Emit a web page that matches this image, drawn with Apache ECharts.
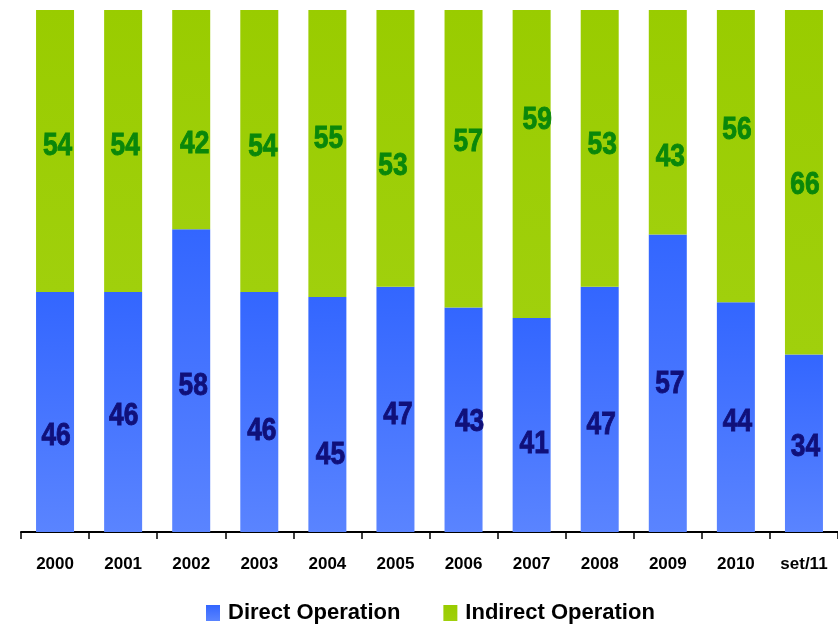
<!DOCTYPE html>
<html>
<head>
<meta charset="utf-8">
<script src="https://cdn.jsdelivr.net/npm/echarts@6/dist/echarts.min.js"></script>
<style>
  html, body { margin: 0; padding: 0; background: #ffffff; }
  #chart { width: 838px; height: 626px; }
</style>
</head>
<body>
<div id="chart"></div>
<script>
// Period labels
const categories = ['2000', '2001', '2002', '2003', '2004', '2005', '2006', '2007', '2008', '2009', '2010', 'set/11'];
// Share of each operation type (%)
const directOperation   = [46, 46, 58, 46, 45, 47, 43, 41, 47, 57, 44, 34];
const indirectOperation = [54, 54, 42, 54, 55, 53, 57, 59, 53, 43, 56, 66];

// Hand-placed nudges for the value labels, [dx, dy] in pixels from segment centre
const directLabelNudge   = [[1, 22], [0.5, 2], [2, 3.5], [2.5, 17], [3, 38], [2.5, 4], [6, 0], [2.5, 17], [1.5, 14], [2, -1], [1.5, 3], [1.5, 2]];
const indirectLabelNudge = [[2.5, -7], [2, -7], [3.5, 22], [3.5, -6], [1, -17], [-2.5, 16], [4.5, -19], [5.5, -46], [2.5, -5.5], [2.5, 32.5], [1, -28.5], [1, 0.5]];

const FONT = "'Liberation Sans', Arial, sans-serif";
// digits sit a little above the em-box middle; pull them down to centre the ink
const DIGIT_DROP = 2.5;

const chart = echarts.init(document.getElementById('chart'), null, { renderer: 'canvas' });

// Value labels: centred in each stacked segment, drawn slightly condensed
function labelSeries(values, bases, nudges, color) {
  return {
    type: 'custom',
    silent: true,
    z: 5,
    data: values.map((v, i) => [i, v, bases[i]]),
    renderItem: function (params, api) {
      const i = api.value(0);
      const v = api.value(1);
      const base = api.value(2);
      const p = api.coord([i, base + v / 2]);
      const n = nudges[i];
      return {
        type: 'text',
        x: p[0] + n[0],
        y: p[1] + n[1] + DIGIT_DROP,
        scaleX: 0.85,
        style: {
          text: String(v),
          fill: color,
          stroke: color,
          lineWidth: 0.9,
          font: 'bold 31px ' + FONT,
          align: 'center',
          verticalAlign: 'middle'
        }
      };
    }
  };
}

chart.setOption({
  animation: false,
  backgroundColor: '#ffffff',
  grid: { left: 21, top: 10, width: 821, height: 522, containLabel: false },
  xAxis: {
    type: 'category',
    data: categories,
    boundaryGap: true,
    axisLine: { show: true, lineStyle: { color: '#000000', width: 2 } },
    axisTick: { show: true, length: 7, lineStyle: { color: '#000000', width: 1.5 } },
    axisLabel: {
      interval: 0,
      margin: 24,
      color: '#000000',
      fontFamily: FONT,
      fontWeight: 'bold',
      fontSize: 17
    },
    splitLine: { show: false }
  },
  yAxis: {
    type: 'value',
    min: 0,
    max: 100,
    show: false
  },
  legend: {
    left: 206,
    top: 602,
    padding: 0,
    itemWidth: 14,
    itemHeight: 16,
    itemGap: 43,
    icon: 'rect',
    textStyle: {
      color: '#000000',
      fontFamily: FONT,
      fontWeight: 'bold',
      fontSize: 22,
      padding: [0, 0, 0, 3]
    },
    data: ['Direct Operation', 'Indirect Operation']
  },
  series: [
    {
      name: 'Direct Operation',
      type: 'bar',
      stack: 'share',
      barWidth: 38,
      data: directOperation,
      itemStyle: {
        color: new echarts.graphic.LinearGradient(0, 0, 0, 1, [
          { offset: 0, color: '#3366ff' },
          { offset: 1, color: '#5a84ff' }
        ])
      }
    },
    {
      name: 'Indirect Operation',
      type: 'bar',
      stack: 'share',
      barWidth: 38,
      data: indirectOperation,
      itemStyle: {
        color: new echarts.graphic.LinearGradient(0, 0, 0, 1, [
          { offset: 0, color: '#99cc00' },
          { offset: 1, color: '#a0d00c' }
        ])
      }
    },
    labelSeries(directOperation, directOperation.map(() => 0), directLabelNudge, '#10107a'),
    labelSeries(indirectOperation, directOperation, indirectLabelNudge, '#0a870a')
  ]
});
</script>
</body>
</html>
